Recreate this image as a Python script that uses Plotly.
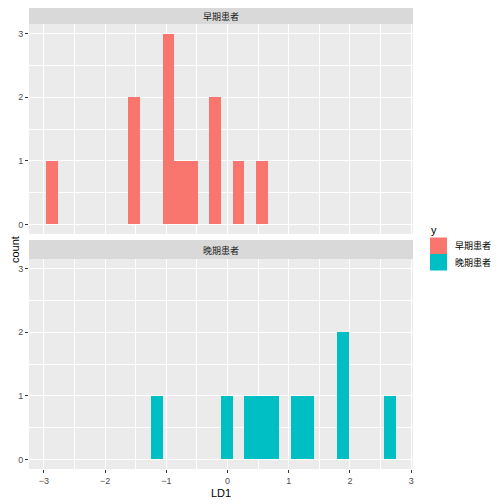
import plotly.graph_objects as go
from plotly.subplots import make_subplots

early_ld1 = [-2.86, -1.53, -1.53, -0.96, -0.96, -0.96, -0.77, -0.58,
             -0.20, -0.20, 0.18, 0.56]
late_ld1 = [-1.15, -0.01, 0.37, 0.56, 0.75, 1.13, 1.32, 1.89, 1.89, 2.65]

groups = ["早期患者", "晚期患者"]
colors = ["#F8766D", "#00BFC4"]
x_ticks = [-3, -2, -1, 0, 1, 2, 3]
y_ticks = [0, 1, 2, 3]

# ggplot bins=30 over the pooled data
bin_start = -2.956
bin_size = 0.19
bin_end = 2.744

# the page body adds 8px around the figure, so lay out in screen px - 8
OFF = 8
W, H = 504, 504
ml, mr = 29 - OFF, W - (413 - OFF)
mt, mb = 0, H - (469 - OFF)
pw = W - ml - mr
ph = H - mt - mb


def px_x(x):
    return (x - OFF - ml) / pw


def px_y(y):
    return (H - mb - (y - OFF)) / ph


fig = make_subplots(rows=2, cols=1, shared_xaxes=True)

for i, vals in enumerate([early_ld1, late_ld1]):
    fig.add_trace(go.Histogram(
        x=vals, name=groups[i],
        xbins=dict(start=bin_start, end=bin_end, size=bin_size),
        autobinx=False,
        marker=dict(color=colors[i], line=dict(width=0)),
        showlegend=False,
    ), row=i + 1, col=1)

grid = dict(showgrid=True, gridcolor="white", gridwidth=1.1, zeroline=False,
            ticks="outside", ticklen=3, tickcolor="#333333", tickwidth=1,
            tickfont=dict(family="Liberation Sans", size=9, color="#4D4D4D"),
            showline=False, automargin=False)
minor = dict(showgrid=True, gridcolor="white", gridwidth=0.5, dtick=0.5,
             ticks="")

fig.update_xaxes(range=[-3.241, 3.029], tickvals=x_ticks, minor=minor, **grid)
fig.update_xaxes(showticklabels=False, ticks="", row=1, col=1)
fig.update_yaxes(range=[-0.15, 3.15], tickvals=y_ticks, minor=minor, **grid)

fig.update_layout(
    xaxis=dict(domain=[0, 1]),
    xaxis2=dict(domain=[0, 1]),
    yaxis=dict(domain=[px_y(234), px_y(24)]),
    yaxis2=dict(domain=[0, px_y(259)]),
)


def label(text, x, y, size=11, family="Liberation Sans", color="black",
          xanchor="center", angle=0):
    return dict(text=text, xref="paper", yref="paper", x=x, y=y,
                xanchor=xanchor, yanchor="middle", textangle=angle,
                showarrow=False,
                font=dict(family=family, size=size, color=color))


shapes = []
annotations = []
strips = [(8, 24), (240, 259)]
for (top, bot), g in zip(strips, groups):
    shapes.append(dict(type="rect", xref="paper", yref="paper",
                       x0=0, x1=1, y0=px_y(bot), y1=px_y(top),
                       fillcolor="#D9D9D9", line=dict(width=0), layer="below"))
    annotations.append(label(g, 0.5, px_y((top + bot) / 2 + 1), size=9,
                             family="Noto Sans CJK SC", color="#1A1A1A"))

# legend drawn by hand to get ggplot-sized keys
annotations.append(label("y", px_x(429), px_y(230), xanchor="left"))
key_top = 237.5
for i, g in enumerate(groups):
    y0 = key_top + i * 16.5
    shapes.append(dict(type="rect", xref="paper", yref="paper",
                       x0=px_x(430), x1=px_x(447),
                       y0=px_y(y0 + 16.5), y1=px_y(y0),
                       fillcolor=colors[i], line=dict(width=0)))
    annotations.append(label(g, px_x(453), px_y(y0 + 8.5), size=9,
                             family="Noto Sans CJK SC", xanchor="left"))

annotations.append(label("count", px_x(15), px_y(250), angle=-90))
annotations.append(label("LD1", 0.5, px_y(493)))

fig.update_layout(
    width=W, height=H,
    margin=dict(l=ml, r=mr, t=mt, b=mb, autoexpand=False),
    paper_bgcolor="white",
    plot_bgcolor="#EBEBEB",
    bargap=0,
    showlegend=False,
    shapes=shapes,
    annotations=annotations,
)

fig.write_html("out.html")
